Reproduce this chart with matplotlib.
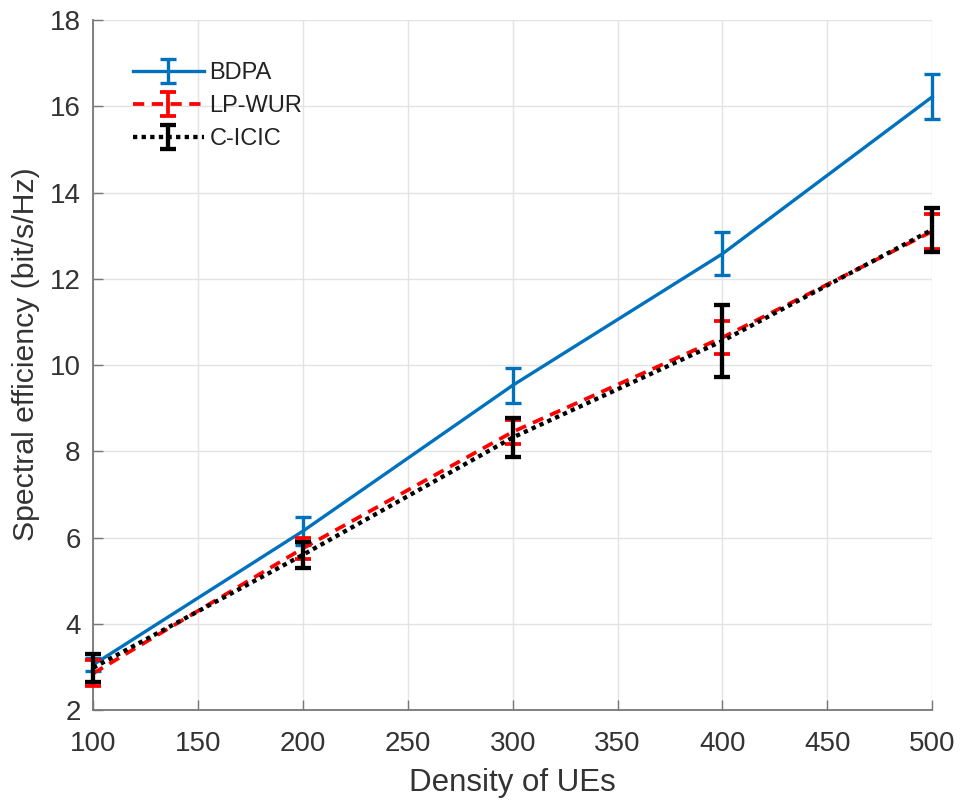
import matplotlib
matplotlib.use("Agg")
import matplotlib.pyplot as plt

plt.rcParams['font.family'] = ['Liberation Sans', 'DejaVu Sans']

density = [100, 200, 300, 400, 500]

bdpa_mean = [3.05, 6.15, 9.53, 12.58, 16.22]
bdpa_err = [0.15, 0.32, 0.40, 0.50, 0.52]

lpwur_mean = [2.85, 5.75, 8.45, 10.64, 13.10]
lpwur_err = [0.30, 0.25, 0.27, 0.38, 0.40]

cicic_mean = [2.98, 5.60, 8.32, 10.56, 13.14]
cicic_err = [0.32, 0.30, 0.46, 0.84, 0.51]

series_names = ['BDPA', 'LP-WUR', 'C-ICIC']

fig = plt.figure(figsize=(9.61, 8.05), dpi=100)
ax = fig.add_axes([0.097, 0.118, 0.873, 0.857])

styles = [
    (bdpa_mean, bdpa_err, '#0072BD', '-', 2.4),
    (lpwur_mean, lpwur_err, '#FF0000', (0, (3, 2)), 2.7),
    (cicic_mean, cicic_err, 'black', (0, (1, 1)), 3.1),
]
for i, (m, e, c, ls, lw) in enumerate(styles):
    cont = ax.errorbar(density, m, yerr=e, color=c, lw=lw, ls=ls,
                       capsize=6, capthick=lw, elinewidth=lw,
                       label=series_names[i], zorder=3 + i)
    cont.lines[0].set_clip_on(False)
    for cap in cont.lines[1]:
        cap.set_clip_on(False)
    for bar in cont.lines[2]:
        bar.set_clip_on(False)

ax.set_xlim(100, 500)
ax.set_ylim(2, 18)
ax.set_xticks(range(100, 501, 50))
ax.set_yticks(range(2, 19, 2))
ax.grid(True, color='#e3e3e3', lw=1.0)
ax.set_axisbelow(True)
for side in ['top', 'right']:
    ax.spines[side].set_visible(False)
for side in ['left', 'bottom']:
    ax.spines[side].set_color('#777777')
    ax.spines[side].set_linewidth(1.3)
ax.tick_params(direction='in', length=7, width=1.0, color='#777777',
               labelsize=20, labelcolor='#333333')
ax.tick_params(axis='x', pad=15)
ax.tick_params(axis='y', pad=9)

ax.set_xlabel('Density of UEs', fontsize=22.5, color='#333333', labelpad=8)
ax.set_ylabel('Spectral efficiency (bit/s/Hz)', fontsize=21.8, color='#333333', labelpad=7)
ax.yaxis.label.set_y(0.516)

leg = ax.legend(loc='upper left', bbox_to_anchor=(0.036, 0.953), borderaxespad=0,
                frameon=False, fontsize=17, handlelength=3.0, handletextpad=0.25,
                labelspacing=0.47)
for t in leg.get_texts():
    t.set_color('#222222')

fig.savefig('out.png', dpi=100)
